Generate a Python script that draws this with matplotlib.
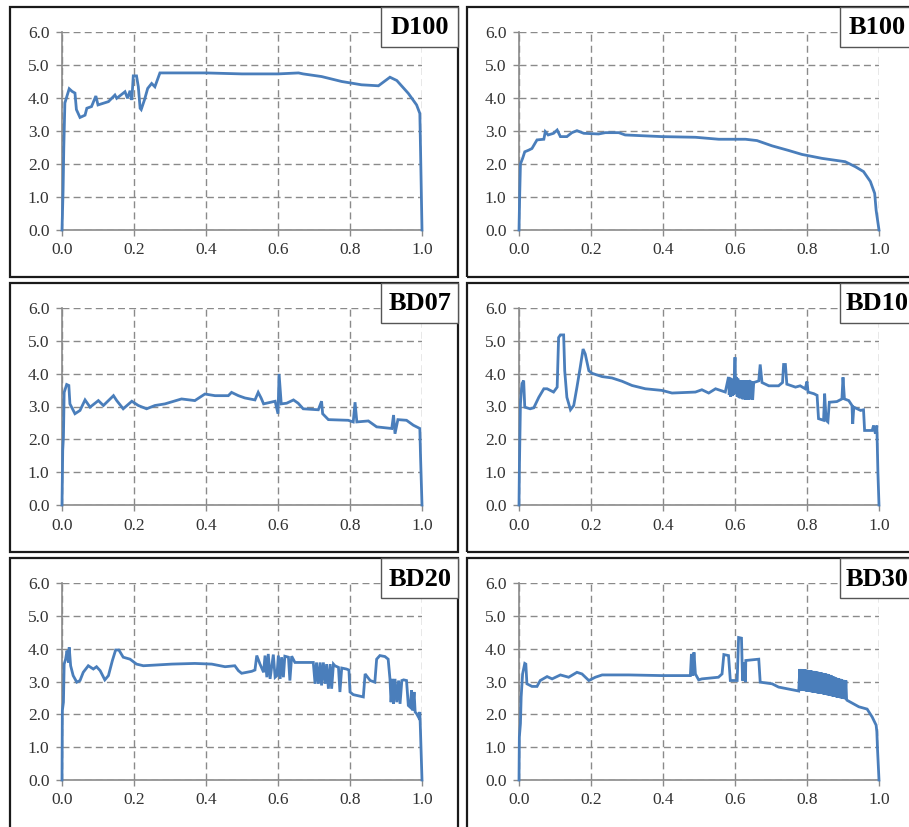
import matplotlib
matplotlib.use("Agg")
import matplotlib.pyplot as plt
from matplotlib.patches import Rectangle

d100_x = [0.0, 0.003, 0.005, 0.008, 0.02, 0.028, 0.036, 0.04, 0.05, 0.064, 0.069, 0.082, 0.094, 0.1,
          0.129, 0.147, 0.152, 0.175, 0.182, 0.189, 0.194, 0.198, 0.207, 0.212, 0.217, 0.22, 0.229,
          0.238, 0.249, 0.258, 0.263, 0.272, 0.4, 0.5, 0.6, 0.657, 0.67, 0.721, 0.777, 0.832, 0.879,
          0.911, 0.93, 0.962, 0.985, 0.994, 0.996, 1.0]
d100_y = [0.0, 1.2, 2.5, 3.85, 4.28, 4.2, 4.15, 3.65, 3.41, 3.48, 3.69, 3.74, 4.06, 3.79,
          3.89, 4.09, 3.99, 4.19, 3.99, 4.22, 3.94, 4.67, 4.67, 4.34, 3.69, 3.65, 3.94,
          4.29, 4.44, 4.34, 4.49, 4.76, 4.76, 4.73, 4.73, 4.76, 4.73, 4.65, 4.5, 4.4, 4.37,
          4.63, 4.53, 4.14, 3.79, 3.53, 2.4, 0.0]

b100_x = [0.0, 0.002, 0.004, 0.01, 0.016, 0.027, 0.036, 0.05, 0.069, 0.073, 0.081, 0.096, 0.106,
          0.115, 0.133, 0.147, 0.161, 0.18, 0.221, 0.24, 0.277, 0.295, 0.397, 0.49, 0.555, 0.629,
          0.661, 0.703, 0.749, 0.786, 0.842, 0.906, 0.934, 0.957, 0.976, 0.988, 0.992, 1.0]
b100_y = [0.0, 1.1, 2.0, 2.17, 2.37, 2.42, 2.47, 2.73, 2.75, 2.98, 2.88, 2.93, 3.03,
          2.83, 2.83, 2.95, 3.01, 2.93, 2.91, 2.95, 2.95, 2.88, 2.83, 2.81, 2.75, 2.75,
          2.71, 2.55, 2.41, 2.29, 2.17, 2.07, 1.92, 1.77, 1.47, 1.11, 0.6, 0.0]

bd07_x = [0.0, 0.002, 0.004, 0.006, 0.013, 0.019, 0.022, 0.036, 0.05, 0.064, 0.078, 0.101, 0.115,
          0.143, 0.152, 0.17, 0.194, 0.212, 0.235, 0.258, 0.286, 0.332, 0.369, 0.397, 0.425, 0.462,
          0.471, 0.49, 0.508, 0.536, 0.545, 0.553, 0.56, 0.592, 0.6, 0.603, 0.609, 0.624, 0.643,
          0.656, 0.67, 0.712, 0.721, 0.724, 0.74, 0.795, 0.809, 0.814, 0.819, 0.851, 0.874, 0.916,
          0.921, 0.925, 0.933, 0.957, 0.976, 0.994, 0.996, 1.0]
bd07_y = [0.0, 1.67, 2.07, 3.43, 3.67, 3.64, 3.08, 2.78, 2.88, 3.2, 2.98, 3.18, 3.03,
          3.33, 3.18, 2.93, 3.16, 3.03, 2.93, 3.03, 3.08, 3.23, 3.18, 3.38, 3.33, 3.33,
          3.43, 3.33, 3.26, 3.2, 3.43, 3.26, 3.08, 3.16, 2.78, 3.99, 3.08, 3.1, 3.2,
          3.1, 2.93, 2.9, 3.16, 2.78, 2.6, 2.58, 2.53, 3.13, 2.53, 2.56, 2.38, 2.33,
          2.74, 2.17, 2.6, 2.58, 2.43, 2.33, 1.46, 0.0]

bd10_x = [0.0, 0.001, 0.004, 0.008, 0.013, 0.016, 0.031, 0.041, 0.055, 0.069, 0.078, 0.096, 0.106,
          0.11, 0.115, 0.124, 0.127, 0.133, 0.143, 0.152, 0.161, 0.17, 0.178, 0.184, 0.194, 0.203,
          0.231, 0.258, 0.286, 0.314, 0.351, 0.397, 0.425, 0.49, 0.508, 0.527, 0.546, 0.573, 0.582,
          0.584, 0.586, 0.588, 0.590, 0.592, 0.594, 0.596, 0.598, 0.6, 0.602, 0.604, 0.606, 0.608,
          0.61, 0.612, 0.614, 0.616, 0.618, 0.62, 0.622, 0.624, 0.626, 0.628, 0.63, 0.632, 0.634,
          0.636, 0.638, 0.64, 0.642, 0.644, 0.647, 0.649, 0.652, 0.666, 0.67,
          0.675, 0.694, 0.721, 0.732, 0.735, 0.74, 0.744, 0.768, 0.781, 0.795, 0.8, 0.803, 0.819,
          0.828, 0.832, 0.846, 0.849, 0.853, 0.858, 0.862, 0.883, 0.897, 0.9, 0.904, 0.916, 0.925,
          0.927, 0.93, 0.949, 0.957, 0.96, 0.981, 0.985, 0.99, 0.994, 0.997, 1.0]
bd10_y = [0.0, 1.06, 3.08, 3.69, 3.79, 2.98, 2.93, 2.96, 3.28, 3.54, 3.54, 3.44, 3.59,
          5.1, 5.18, 5.18, 4.09, 3.28, 2.9, 3.03, 3.59, 4.19, 4.75, 4.6, 4.09, 4.01,
          3.91, 3.87, 3.77, 3.64, 3.54, 3.49, 3.41, 3.44, 3.51, 3.41, 3.54, 3.44, 3.9,
          3.35, 3.88, 3.3, 3.85, 3.32, 3.82, 3.35, 3.85, 4.5, 3.4, 3.9, 3.3, 3.85,
          3.28, 3.8, 3.25, 3.78, 3.3, 3.8, 3.22, 3.75, 3.25, 3.8, 3.2, 3.72, 3.25,
          3.8, 3.2, 3.7, 3.22, 3.75, 3.73, 3.2, 3.73, 3.78, 4.28,
          3.73, 3.63, 3.63, 3.73, 4.28, 4.28, 3.68, 3.59, 3.63, 3.54, 3.76, 3.44, 3.39,
          3.34, 2.63, 2.58, 3.39, 2.58, 2.53, 3.13, 3.15, 3.23, 3.89, 3.23, 3.18, 3.03,
          2.47, 2.98, 2.88, 2.9, 2.27, 2.27, 2.42, 2.17, 2.42, 0.98, 0.0]

bd20_x = [0.0, 0.001, 0.004, 0.006, 0.01, 0.014, 0.018, 0.02, 0.024, 0.031, 0.041, 0.05, 0.059,
          0.073, 0.087, 0.096, 0.106, 0.119, 0.129, 0.14, 0.149, 0.158, 0.17, 0.189, 0.207, 0.226,
          0.258, 0.305, 0.369, 0.416, 0.453, 0.48, 0.49, 0.499, 0.527, 0.536, 0.541, 0.55, 0.56,
          0.564, 0.569, 0.573, 0.578, 0.587, 0.592, 0.597, 0.601, 0.606, 0.61, 0.615, 0.619, 0.629,
          0.633, 0.638, 0.647, 0.698, 0.703, 0.707, 0.712, 0.717, 0.721, 0.726, 0.731, 0.735, 0.74,
          0.745, 0.749, 0.754, 0.758, 0.768, 0.772, 0.777, 0.79, 0.797, 0.8, 0.809, 0.837, 0.842,
          0.856, 0.869, 0.874, 0.883, 0.897, 0.906, 0.911, 0.914, 0.918, 0.921, 0.925, 0.93, 0.935,
          0.939, 0.944, 0.949, 0.957, 0.962, 0.967, 0.971, 0.974, 0.978, 0.981, 0.985, 0.99, 0.994,
          0.996, 1.0]
bd20_y = [0.0, 2.12, 2.37, 3.53, 3.68, 3.94, 3.58, 4.04, 3.48, 3.18, 2.98, 3.03, 3.28,
          3.48, 3.38, 3.45, 3.33, 3.05, 3.18, 3.64, 3.96, 3.96, 3.74, 3.68, 3.53, 3.48,
          3.5, 3.53, 3.55, 3.53, 3.45, 3.48, 3.33, 3.25, 3.31, 3.35, 3.79, 3.53, 3.28,
          3.79, 3.13, 3.84, 3.08, 3.82, 3.13, 3.18, 3.79, 3.08, 3.74, 3.13, 3.77, 3.74,
          3.03, 3.77, 3.58, 3.58, 2.93, 3.58, 2.93, 3.58, 2.88, 3.58, 2.93, 3.53, 2.78,
          3.53, 2.78, 3.53, 3.48, 3.43, 2.68, 3.41, 3.38, 3.35, 2.68, 2.6, 2.53, 3.23,
          3.03, 2.98, 3.68, 3.79, 3.76, 3.68, 3.08, 2.37, 3.08, 2.32, 3.08, 2.37, 3.03,
          2.32, 3.03, 3.05, 3.03, 2.27, 2.22, 2.73, 2.12, 2.68, 2.07, 2.02, 1.92, 2.07,
          1.41, 0.0]

bd30_head_x = [0.0, 0.001, 0.004, 0.006, 0.01, 0.016, 0.019, 0.022, 0.036, 0.05, 0.059, 0.078, 0.092,
               0.115, 0.138, 0.161, 0.175, 0.194, 0.212, 0.231, 0.305, 0.397, 0.476, 0.479, 0.483,
               0.486, 0.49, 0.499, 0.508, 0.554, 0.564, 0.569, 0.582, 0.587, 0.606, 0.61, 0.618,
               0.621, 0.624, 0.629, 0.63, 0.666, 0.67, 0.703, 0.721, 0.777]
bd30_head_y = [0.0, 1.31, 1.72, 2.53, 3.23, 3.55, 3.53, 2.93, 2.85, 2.85, 3.03, 3.15, 3.08,
               3.2, 3.13, 3.28, 3.23, 3.03, 3.13, 3.2, 3.2, 3.18, 3.18, 3.84, 3.18,
               3.89, 3.23, 3.05, 3.08, 3.13, 3.23, 3.82, 3.79, 3.03, 3.03, 4.34, 4.32,
               3.03, 3.58, 2.98, 3.64, 3.68, 2.98, 2.93, 2.83, 2.71]
# dense oscillating stretch around 0.78-0.91
bd30_band_x = [0.780, 0.782, 0.784, 0.786, 0.788, 0.790, 0.792, 0.794, 0.796, 0.798, 0.800,
               0.802, 0.804, 0.806, 0.808, 0.810, 0.812, 0.814, 0.816, 0.818, 0.820, 0.822,
               0.824, 0.826, 0.828, 0.830, 0.832, 0.834, 0.836, 0.838, 0.840, 0.842, 0.844,
               0.846, 0.848, 0.850, 0.852, 0.854, 0.856, 0.858, 0.860, 0.862, 0.864, 0.866,
               0.868, 0.870, 0.872, 0.874, 0.876, 0.878, 0.880, 0.882, 0.884, 0.886, 0.888,
               0.890, 0.892, 0.894, 0.896, 0.898, 0.900, 0.902, 0.904, 0.906, 0.908, 0.910]
bd30_band_y = [3.38, 2.73, 3.38, 2.72, 3.37, 2.72, 3.36, 2.71, 3.36, 2.70, 3.35,
               2.70, 3.34, 2.69, 3.34, 2.68, 3.33, 2.67, 3.32, 2.67, 3.32, 2.66,
               3.31, 2.65, 3.30, 2.64, 3.29, 2.63, 3.28, 2.63, 3.27, 2.62, 3.26,
               2.61, 3.25, 2.60, 3.24, 2.59, 3.23, 2.58, 3.22, 2.57, 3.20, 2.56,
               3.18, 2.55, 3.16, 2.54, 3.14, 2.53, 3.12, 2.52, 3.10, 2.51, 3.09,
               2.50, 3.08, 2.49, 3.07, 2.48, 3.05, 2.47, 3.04, 2.46, 3.03, 2.45]
bd30_tail_x = [0.911, 0.944, 0.967, 0.981, 0.992, 0.994, 0.996, 1.0]
bd30_tail_y = [2.43, 2.23, 2.16, 1.92, 1.67, 1.47, 0.91, 0.0]
bd30_x = bd30_head_x + bd30_band_x + bd30_tail_x
bd30_y = bd30_head_y + bd30_band_y + bd30_tail_y

names = ["D100", "B100", "BD07", "BD10", "BD20", "BD30"]
series = [(d100_x, d100_y), (b100_x, b100_y), (bd07_x, bd07_y),
          (bd10_x, bd10_y), (bd20_x, bd20_y), (bd30_x, bd30_y)]

xticks = [0.0, 0.2, 0.4, 0.6, 0.8, 1.0]
yticks = [0.0, 1.0, 2.0, 3.0, 4.0, 5.0, 6.0]

W, H = 909, 827
fig = plt.figure(figsize=(W / 100, H / 100), dpi=100)


def box(x0, y0, x1, y1):
    # pixel box (top-left origin) -> figure fraction rect
    return [x0 / W, 1 - y1 / H, (x1 - x0) / W, (y1 - y0) / H]


col_ax = [(62, 422), (519, 879)]
row_ax = [(32, 230), (308, 505), (583, 780)]
col_fr = [(10, 458), (467, 916)]
row_fr = [(7, 277), (283, 552), (558, 836)]
col_lab = [(381, 458), (840, 916)]
col_txt = [420, 877]

grid_c = "#8a8a8a"
for i, name in enumerate(names):
    r, c = divmod(i, 2)
    # panel frame
    fx0, fx1 = col_fr[c]
    fy0, fy1 = row_fr[r]
    fig.add_artist(Rectangle((fx0 / W, 1 - fy1 / H), (fx1 - fx0) / W, (fy1 - fy0) / H,
                             transform=fig.transFigure, fill=False, ec="#1a1a1a", lw=1.6, zorder=0))

    ax = fig.add_axes(box(col_ax[c][0], row_ax[r][0], col_ax[c][1], row_ax[r][1]))
    xs, ys = series[i]
    ax.plot(xs, ys, color="#4a7ebb", lw=2.0, clip_on=False, zorder=3, solid_joinstyle="miter")
    ax.set_xlim(0, 1)
    ax.set_ylim(0, 6)
    ax.set_xticks(xticks)
    ax.set_yticks(yticks)
    ax.set_xticklabels([f"{v:.1f}" for v in xticks])
    ax.set_yticklabels([f"{v:.1f}" for v in yticks])
    ax.grid(True, color=grid_c, ls=(0, (5, 3)), lw=1.0)
    ax.set_axisbelow(True)
    for s in ["top", "right"]:
        ax.spines[s].set_visible(False)
    for s in ["left", "bottom"]:
        ax.spines[s].set_color(grid_c)
        ax.spines[s].set_linewidth(1.2)
    ax.tick_params(axis="both", colors=grid_c, length=4, width=1.0, labelcolor="#333333",
                   labelsize=12.5, pad=5)
    for lab in ax.get_xticklabels() + ax.get_yticklabels():
        lab.set_family("Liberation Serif")

    # name box in the top-right corner
    lx0, lx1 = col_lab[c]
    fig.add_artist(Rectangle((lx0 / W, 1 - (fy0 + 40) / H), (lx1 - lx0) / W, 40 / H,
                             transform=fig.transFigure, fc="white", ec="#555555", lw=1.0, zorder=5))
    fig.text(col_txt[c] / W, 1 - (fy0 + 21) / H, name, ha="center", va="center",
             family="Liberation Serif", weight="bold", fontsize=19, zorder=6)

fig.savefig("out.png", dpi=100)
